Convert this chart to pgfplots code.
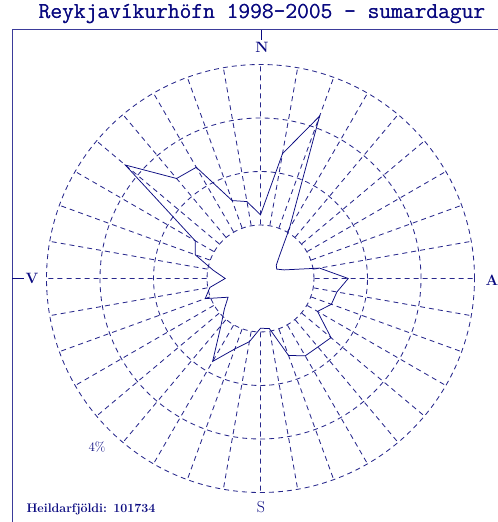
\documentclass[border=0pt]{standalone}
\usepackage{pgfplots}
\pgfplotsset{compat=1.18}
\usepgfplotslibrary{polar}
\usepackage{pgfplotstable}
\definecolor{navy}{RGB}{10,10,128}
\definecolor{gridc}{RGB}{40,40,140}

\pgfplotstableread{
dir pct
0 1.19
10 2.37
20 3.23
30 1.08
40 0.55
50 0.385
60 0.35
70 0.47
80 1.12
90 1.64
100 1.45
110 1.41
120 1.23
130 1.72
140 1.67
150 1.67
160 1.53
170 0.95
180 0.93
190 1.20
200 1.40
210 1.79
220 1.15
230 0.88
240 0.70
250 1.10
260 0.96
270 0.66
280 0.90
290 1.30
300 1.41
310 3.30
320 2.44
330 2.40
340 1.55
350 1.46
360 1.19
}\rosedata

\begin{document}
\begin{tikzpicture}[x=1bp,y=1bp]
\useasboundingbox (0,0) rectangle (498,522);
\begin{polaraxis}[
  at={(260.5bp,243.5bp)}, anchor=center,
  scale only axis, width=428bp, height=428bp,
  ymin=0, ymax=4,
  xtick={0,10,...,350}, ytick={1,2,3,4},
  xticklabels={}, yticklabels={},
  major tick length=0pt,
  axis line style={draw=none},
  grid=major,
  major grid style={gridc, line width=0.85bp, dash pattern=on 5bp off 4bp},
  clip=false,
]
\fill[white] (axis cs:0,0.97) \foreach \a in {5,10,...,360}{ -- (axis cs:\a,0.97)} -- cycle;
\addplot[navy, line width=0.75bp, mark=none] table[x expr=90-\thisrow{dir}, y=pct] {\rosedata};
\end{polaraxis}
\draw[navy!80, line width=1bp] (12,0) -- (12,492) -- (498,492);
\draw[navy, line width=0.8bp] (261,492) -- (261,482);
\draw[navy, line width=0.8bp] (12,244) -- (24,244);
\foreach \dx in {-0.12,0.12}{
\node[navy, font=\ttfamily\fontsize{22.9}{23}\selectfont] at (262+\dx,507.5) {Reykjavíkurhöfn 1998–2005 – sumardagur};}
\node[navy, font=\bfseries\fontsize{15}{15}\selectfont] at (262,475) {N};
\node[navy, font=\bfseries\fontsize{15}{15}\selectfont] at (32,244) {V};
\node[navy, font=\bfseries\fontsize{15}{15}\selectfont] at (492,242) {A};
\node[navy, font=\fontsize{16}{16}\selectfont] at (261,15) {S};
\node[navy, font=\fontsize{13}{13}\selectfont] at (97,75) {4\%};
\node[navy, anchor=west, font=\bfseries\fontsize{12.5}{12.5}\selectfont] at (23,13) {Heildarfjöldi: 101734};
\end{tikzpicture}
\end{document}
